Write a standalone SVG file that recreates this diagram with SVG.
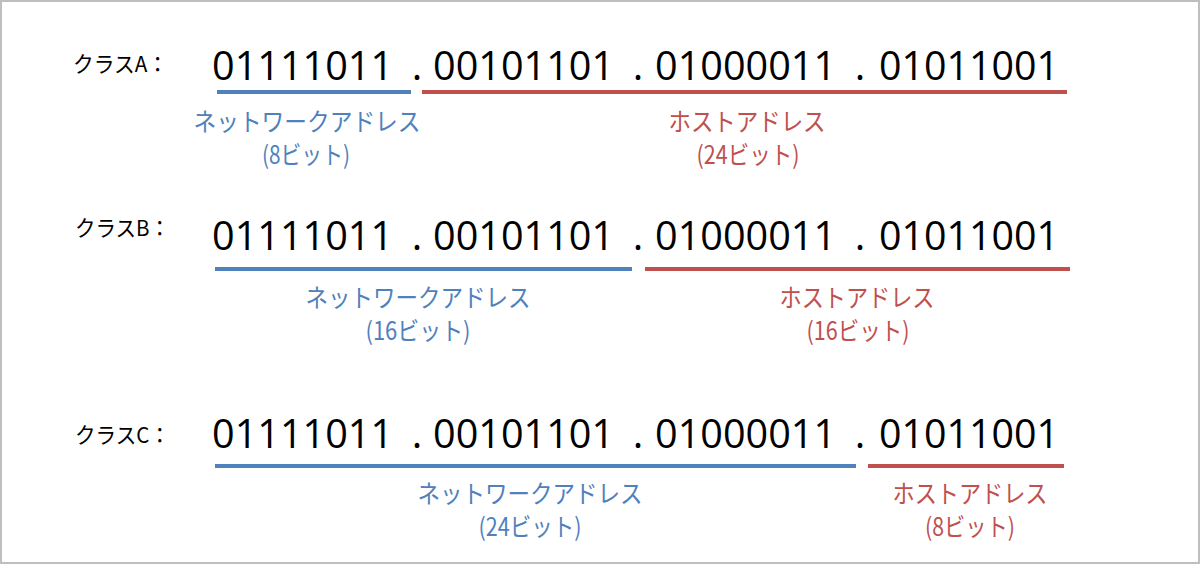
<svg xmlns="http://www.w3.org/2000/svg" width="1200" height="564" viewBox="0 0 1200 564">
<style>
.bits{font-family:"Open Sans","Liberation Sans",sans-serif;font-size:40px;fill:#000}
.dot{font-family:"Open Sans","Liberation Sans",sans-serif;font-size:40px;fill:#000;text-anchor:middle}
.cls{font-family:"Noto Sans CJK JP","Noto Sans",sans-serif;font-size:22px;fill:#000}
.lb{font-family:"Noto Sans CJK JP","Noto Sans",sans-serif;font-size:25px;text-anchor:middle}
.blue{fill:#4F81BD}
.red{fill:#C0504D}
.ub{stroke:#4F81BD;stroke-width:4;fill:none}
.ur{stroke:#C0504D;stroke-width:4;fill:none}
</style>
<rect x="0" y="0" width="1200" height="564" fill="#ffffff"/>
<rect x="1" y="1" width="1198" height="562" fill="none" stroke="#bfbfbf" stroke-width="2"/>

<g id="classA">
<text class="cls" x="73" y="72" textLength="95" lengthAdjust="spacingAndGlyphs">クラスA：</text>
<text class="bits" x="212" y="80" textLength="181" lengthAdjust="spacingAndGlyphs">01111011</text>
<text class="dot" x="417" y="80">.</text>
<text class="bits" x="433" y="80" textLength="181" lengthAdjust="spacingAndGlyphs">00101101</text>
<text class="dot" x="638" y="80">.</text>
<text class="bits" x="655" y="80" textLength="181" lengthAdjust="spacingAndGlyphs">01000011</text>
<text class="dot" x="860" y="80">.</text>
<text class="bits" x="879" y="80" textLength="180" lengthAdjust="spacingAndGlyphs">01011001</text>
</g>
<g id="classA-net">
<text class="lb blue" x="307" y="131" textLength="227" lengthAdjust="spacingAndGlyphs">ネットワークアドレス</text>
<text class="lb blue" x="306" y="164" textLength="88" lengthAdjust="spacingAndGlyphs">(8ビット)</text>
</g>
<g id="classA-host">
<text class="lb red" x="747" y="131" textLength="157" lengthAdjust="spacingAndGlyphs">ホストアドレス</text>
<text class="lb red" x="748" y="164" textLength="103" lengthAdjust="spacingAndGlyphs">(24ビット)</text>
</g>

<g id="classB">
<text class="cls" x="75" y="236" textLength="95" lengthAdjust="spacingAndGlyphs">クラスB：</text>
<text class="bits" x="212" y="250" textLength="181" lengthAdjust="spacingAndGlyphs">01111011</text>
<text class="dot" x="417" y="250">.</text>
<text class="bits" x="433" y="250" textLength="181" lengthAdjust="spacingAndGlyphs">00101101</text>
<text class="dot" x="638" y="250">.</text>
<text class="bits" x="655" y="250" textLength="181" lengthAdjust="spacingAndGlyphs">01000011</text>
<text class="dot" x="860" y="250">.</text>
<text class="bits" x="879" y="250" textLength="180" lengthAdjust="spacingAndGlyphs">01011001</text>
</g>
<g id="classB-net">
<text class="lb blue" x="418" y="307" textLength="225" lengthAdjust="spacingAndGlyphs">ネットワークアドレス</text>
<text class="lb blue" x="418" y="340" textLength="105" lengthAdjust="spacingAndGlyphs">(16ビット)</text>
</g>
<g id="classB-host">
<text class="lb red" x="857" y="307" textLength="155" lengthAdjust="spacingAndGlyphs">ホストアドレス</text>
<text class="lb red" x="858" y="340" textLength="103" lengthAdjust="spacingAndGlyphs">(16ビット)</text>
</g>

<g id="classC">
<text class="cls" x="75" y="443" textLength="95" lengthAdjust="spacingAndGlyphs">クラスC：</text>
<text class="bits" x="212" y="448" textLength="181" lengthAdjust="spacingAndGlyphs">01111011</text>
<text class="dot" x="417" y="448">.</text>
<text class="bits" x="433" y="448" textLength="181" lengthAdjust="spacingAndGlyphs">00101101</text>
<text class="dot" x="638" y="448">.</text>
<text class="bits" x="655" y="448" textLength="181" lengthAdjust="spacingAndGlyphs">01000011</text>
<text class="dot" x="860" y="448">.</text>
<text class="bits" x="879" y="448" textLength="180" lengthAdjust="spacingAndGlyphs">01011001</text>
</g>
<g id="classC-net">
<text class="lb blue" x="530" y="503" textLength="225" lengthAdjust="spacingAndGlyphs">ネットワークアドレス</text>
<text class="lb blue" x="530" y="536" textLength="103" lengthAdjust="spacingAndGlyphs">(24ビット)</text>
</g>
<g id="classC-host">
<text class="lb red" x="970" y="503" textLength="155" lengthAdjust="spacingAndGlyphs">ホストアドレス</text>
<text class="lb red" x="970" y="536" textLength="90" lengthAdjust="spacingAndGlyphs">(8ビット)</text>
</g>

<g id="connectors">
<line class="ub" x1="217" y1="92" x2="411" y2="92"/>
<line class="ur" x1="422" y1="92" x2="1067" y2="92"/>
<line class="ub" x1="215" y1="269" x2="632" y2="269"/>
<line class="ur" x1="645" y1="269" x2="1070" y2="269"/>
<line class="ub" x1="215" y1="466" x2="856" y2="466"/>
<line class="ur" x1="868" y1="466" x2="1064" y2="466"/>
</g>
</svg>
